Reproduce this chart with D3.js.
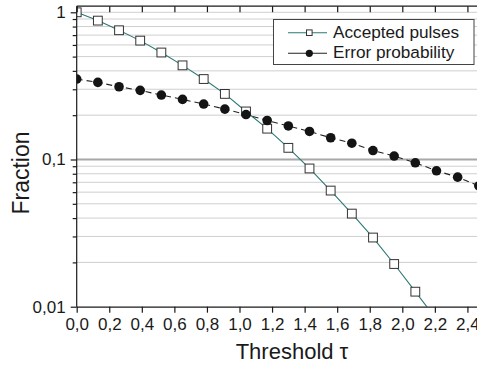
<!DOCTYPE html>
<html>
<head>
<meta charset="utf-8">
<script src="https://cdn.jsdelivr.net/npm/d3@7"></script>
<style>
  html, body { margin: 0; padding: 0; background: #fff; }
  svg { display: block; font-family: "Liberation Sans", Arial, sans-serif; }
</style>
</head>
<body>
<svg id="chart" width="477" height="366"></svg>
<script>
// Threshold values (tau) at which both quantities were evaluated
const thresholds = [0.00, 0.13, 0.26, 0.39, 0.52, 0.65, 0.78, 0.91, 1.04, 1.17,
                    1.30, 1.43, 1.56, 1.69, 1.82, 1.95, 2.08, 2.21, 2.34, 2.47];

// Fraction of pulses accepted at each threshold
const acceptedPulses = [1.00, 0.878, 0.755, 0.642, 0.533, 0.436, 0.352, 0.279, 0.212, 0.162,
                        0.120, 0.0869, 0.0615, 0.0429, 0.0295, 0.0195, 0.01265, 0.0082];

// Error probability at each threshold
const errorProbability = [0.352, 0.334, 0.312, 0.295, 0.274, 0.256, 0.238, 0.220, 0.202, 0.184,
                          0.169, 0.155, 0.1405, 0.129, 0.115, 0.1055, 0.095, 0.0838, 0.0759, 0.0662];

const xTicks = [0, 0.2, 0.4, 0.6, 0.8, 1.0, 1.2, 1.4, 1.6, 1.8, 2.0, 2.2, 2.4];
const yMajorTicks = [0.01, 0.1, 1];
const yTickLabels = ["0,01", "0,1", "1"];
const legendLabels = ["Accepted pulses", "Error probability"];

const svg = d3.select("#chart");
const mLeft = 76.7, mTop = 6.2, mBottom = 306.7;
const pxPerUnit = 162.8;
const xMax = 2.5;

const x = d3.scaleLinear().domain([0, xMax]).range([mLeft, mLeft + xMax * pxPerUnit]);
const y = d3.scaleLog().domain([0.01, 1.1]).range([mBottom, mTop]);

const fmt = d => d.toFixed(1).replace(".", ",");

// horizontal grid: every minor decade value plus the majors
const gridVals = [];
[0.01, 0.1].forEach(dec => { for (let k = 1; k <= 9; k++) gridVals.push(dec * k); });
gridVals.push(1);

const plotW = 477 - mLeft;
svg.append("defs").append("clipPath").attr("id", "plot")
  .append("rect").attr("x", mLeft).attr("y", mTop).attr("width", plotW + 20).attr("height", mBottom - mTop);

svg.append("g").selectAll("line").data(gridVals.filter(v => v > 0.01)).join("line")
  .attr("x1", mLeft).attr("x2", 477)
  .attr("y1", d => y(d)).attr("y2", d => y(d))
  .attr("stroke", d => Math.abs(d - 0.1) < 1e-9 ? "#a8a8a8" : "#cfcfcf")
  .attr("stroke-width", d => Math.abs(d - 0.1) < 1e-9 ? 2 : 1);

// series
const accData = acceptedPulses.map((v, i) => [thresholds[i], v]);
const errData = errorProbability.map((v, i) => [thresholds[i], v]);
const line = d3.line().x(d => x(d[0])).y(d => y(d[1]));

const plot = svg.append("g").attr("clip-path", "url(#plot)");

plot.append("path").datum(accData)
  .attr("d", line).attr("fill", "none")
  .attr("stroke", "#2b7874").attr("stroke-width", 1.1);
plot.append("g").selectAll("rect").data(accData).join("rect")
  .attr("x", d => x(d[0]) - 4.4).attr("y", d => y(d[1]) - 4.4)
  .attr("width", 8.8).attr("height", 8.8)
  .attr("fill", "#fff").attr("stroke", "#333").attr("stroke-width", 1);

plot.append("path").datum(errData)
  .attr("d", line).attr("fill", "none")
  .attr("stroke", "#222").attr("stroke-width", 1.1)
  .attr("stroke-dasharray", "6,4");
plot.append("g").selectAll("circle").data(errData).join("circle")
  .attr("cx", d => x(d[0])).attr("cy", d => y(d[1])).attr("r", 4.8)
  .attr("fill", "#141414");

// axes
const xAxis = d3.axisBottom(x).tickValues(xTicks).tickFormat(fmt).tickSize(6).tickPadding(5);
const gx = svg.append("g").attr("transform", `translate(0,${mBottom})`).call(xAxis);
gx.select(".domain").attr("d", `M${mLeft},0.5H477`);

const xTop = d3.axisBottom(x).tickValues(xTicks).tickFormat("").tickSize(6);
const gt = svg.append("g").attr("transform", `translate(0,${mTop})`).call(xTop);
gt.select(".domain").attr("d", `M${mLeft},0H477`);

const yAxis = d3.axisLeft(y).tickValues(yMajorTicks)
  .tickFormat((d, i) => yTickLabels[i]).tickSize(6).tickPadding(5);
const gy = svg.append("g").attr("transform", `translate(${mLeft},0)`).call(yAxis);
gy.select(".domain").attr("d", `M0,${mTop}V${mBottom}`);

const yMinor = d3.axisLeft(y).tickValues(gridVals.filter(v => !yMajorTicks.some(m => Math.abs(m - v) < 1e-9)))
  .tickFormat("").tickSize(4);
const gm = svg.append("g").attr("transform", `translate(${mLeft},0)`).call(yMinor);
gm.select(".domain").remove();

svg.selectAll(".tick line, .domain").attr("stroke", "#1a1a1a").attr("stroke-width", 1.2);
svg.selectAll(".tick text").attr("font-size", 17).attr("fill", "#1a1a1a")
  .attr("font-family", "'Liberation Sans', Arial, sans-serif");

// axis titles
svg.append("text").attr("x", 292).attr("y", 359).attr("text-anchor", "middle")
  .attr("font-size", 22).attr("fill", "#1a1a1a").text("Threshold \u03c4");
svg.append("text").attr("transform", "translate(29,173) rotate(-90)").attr("text-anchor", "middle")
  .attr("font-size", 23).attr("fill", "#1a1a1a").text("Fraction");

// legend
const lg = svg.append("g");
lg.append("rect").attr("x", 273.5).attr("y", 19.5).attr("width", 200.5).attr("height", 45)
  .attr("fill", "#fff").attr("stroke", "#444").attr("stroke-width", 1);
const rows = [32.7, 53.3];
lg.append("line").attr("x1", 288).attr("x2", 327).attr("y1", rows[0]).attr("y2", rows[0])
  .attr("stroke", "#2b7874").attr("stroke-width", 1.1);
lg.append("rect").attr("x", 306.5).attr("y", rows[0] - 2.8).attr("width", 5.6).attr("height", 5.6)
  .attr("fill", "#fff").attr("stroke", "#333");
lg.append("line").attr("x1", 288).attr("x2", 327).attr("y1", rows[1]).attr("y2", rows[1])
  .attr("stroke", "#222").attr("stroke-width", 1.1);
lg.append("circle").attr("cx", 309.3).attr("cy", rows[1]).attr("r", 3.6).attr("fill", "#141414");
lg.selectAll("text.lbl").data(legendLabels).join("text").attr("class", "lbl")
  .attr("x", 333).attr("y", (d, i) => rows[i] + 5)
  .attr("font-size", 17.2).attr("fill", "#1a1a1a").text(d => d);
</script>
</body>
</html>
